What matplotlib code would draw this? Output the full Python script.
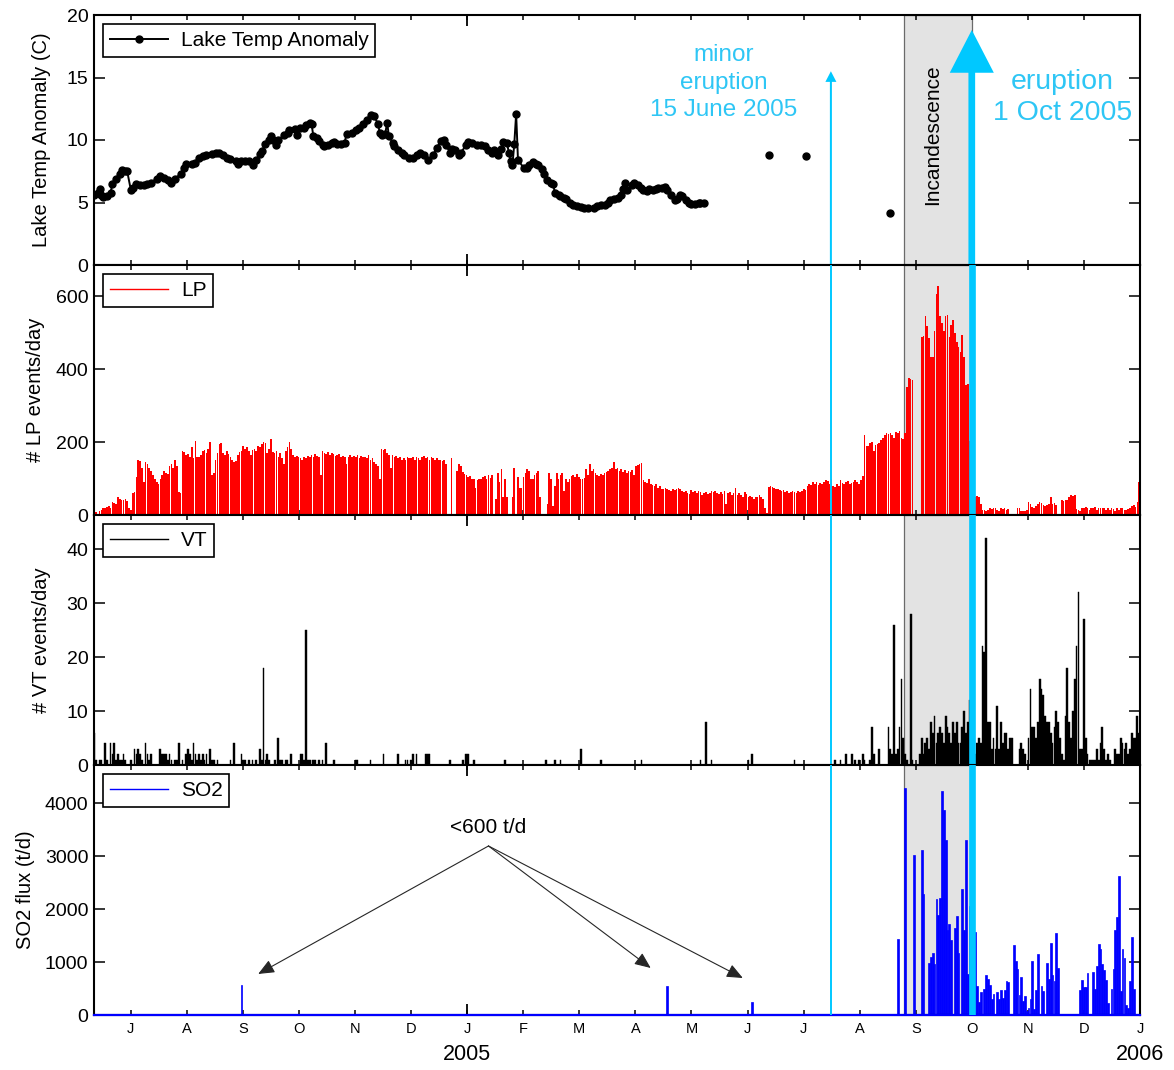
import numpy as np
import matplotlib
matplotlib.use('Agg')
import matplotlib.pyplot as plt
import matplotlib.transforms as mtransforms
from matplotlib.lines import Line2D
from matplotlib.patches import FancyArrow

plt.rcParams['font.family'] = ['Liberation Sans', 'DejaVu Sans']

# time axis is in decimal years, day index 0 = left edge of the plot
day0 = 2004.4454
t_end = 2006.0
minor_eruption = 2005.5406
eruption = 2005.75
incand_start = 2005.649

month_ticks = 2004.5 + np.arange(19) / 12.0
month_labels = ['J', 'A', 'S', 'O', 'N', 'D', 'J', 'F', 'M', 'A', 'M', 'J',
                'J', 'A', 'S', 'O', 'N', 'D', 'J']
year_ticks = [2005.0, 2006.0]

# lake temperature anomaly (day index, deg C)
temp_day = [0, 2, 3, 4, 5, 7, 9, 10, 12, 14, 15, 17, 18, 20, 21, 23, 25, 27, 29, 31,
            34, 36, 38, 40, 42, 44, 47, 49, 50, 53, 55, 57, 59, 61, 64, 66, 68, 70, 72, 74,
            77, 78, 80, 82, 84, 86, 88, 90, 91, 93, 95, 96, 97, 99, 100, 103, 105, 106, 109, 110,
            112, 114, 115, 117, 118, 119, 121, 122, 124, 125, 127, 129, 130, 132, 134, 136, 137, 140, 142, 144,
            146, 148, 150, 152, 154, 155, 156, 158, 159, 160, 162, 163, 165, 167, 168, 171, 173, 175, 177, 179,
            181, 184, 186, 188, 190, 191, 193, 194, 196, 198, 199, 202, 203, 205, 208, 210, 212, 214, 216, 217,
            219, 221, 222, 224, 225, 226, 227, 228, 229, 230, 233, 235, 236, 238, 240, 241, 243, 244, 246, 248,
            249, 250, 252, 253, 255, 256, 258, 260, 262, 264, 266, 268, 271, 273, 275, 277, 279, 280, 282, 284,
            286, 287, 288, 289, 292, 293, 295, 297, 298, 300, 301, 303, 305, 306, 308, 310, 311, 313, 315, 316,
            318, 319, 321, 323, 324, 326, 328, 329, 331]
temp_val = [5.6, 5.8, 6.1, 5.6, 5.45, 5.5, 5.8, 6.5, 6.9, 7.3, 7.6, 7.5, 7.5, 6.0, 6.2, 6.5, 6.4, 6.4, 6.5, 6.6,
            6.9, 7.1, 7.0, 6.8, 6.6, 6.9, 7.3, 7.8, 8.1, 8.1, 8.2, 8.6, 8.7, 8.8, 8.9, 9.0, 9.0, 8.8, 8.6, 8.5,
            8.3, 8.1, 8.3, 8.3, 8.3, 8.0, 8.4, 8.9, 9.1, 9.7, 10.0, 10.3, 10.0, 9.6, 10.0, 10.4, 10.6, 10.8, 10.9, 10.4,
            11.0, 11.0, 11.2, 11.4, 11.3, 10.3, 10.2, 9.9, 9.6, 9.5, 9.6, 9.8, 9.85, 9.7, 9.7, 9.8, 10.5, 10.6, 10.8, 11.0,
            11.3, 11.6, 12.0, 11.9, 11.3, 10.6, 10.4, 10.5, 11.4, 10.3, 9.8, 9.5, 9.2, 9.0, 8.8, 8.6, 8.6, 8.8, 9.0, 8.8,
            8.4, 8.8, 9.4, 9.9, 10.0, 9.6, 9.0, 9.3, 9.2, 8.8, 9.0, 9.6, 9.85, 9.8, 9.6, 9.6, 9.5, 9.2, 9.0, 9.2,
            8.8, 9.3, 9.85, 9.8, 9.0, 8.3, 8.0, 9.7, 12.1, 8.4, 7.8, 7.75, 8.0, 8.25, 8.1, 8.0, 7.7, 7.3, 6.8, 6.6,
            6.5, 5.8, 5.6, 5.5, 5.4, 5.3, 5.0, 4.8, 4.7, 4.65, 4.6, 4.55, 4.6, 4.7, 4.8, 4.8, 5.0, 5.2, 5.3, 5.4,
            5.6, 6.1, 6.6, 6.0, 6.4, 6.55, 6.4, 6.2, 6.0, 5.9, 6.1, 6.0, 6.1, 6.15, 6.2, 6.25, 6.0, 5.6, 5.2, 5.3,
            5.6, 5.5, 5.2, 5.0, 4.85, 4.9, 5.0, 5.0, 5.0]
temp_late_day = [366, 386, 432]
temp_late_val = [8.8, 8.7, 4.2]

# daily LP event counts, one value per day from day index 0
lp = [5, 8, 3, 10, 15, 18, 20, 22, 25, 20,
      35, 33, 30, 49, 45, 40, 42, 44, 38, 18, 14,
      60, 62, 103, 150, 147, 130, 90, 145, 140, 130,
      120, 110, 100, 90, 85, 100, 110, 120, 115, 112,
      135, 140, 130, 150, 135, 62, 60, 175, 172, 165,
      168, 160, 185, 155, 203, 160, 158, 165, 175, 178,
      170, 182, 200, 110, 115, 150, 170, 195, 198, 170,
      165, 175, 168, 160, 150, 145, 148, 165, 172, 175,
      190, 180, 185, 175, 165, 178, 182, 175, 190, 185,
      195, 200, 198, 170, 180, 208, 172, 170, 175, 160,
      170, 155, 140, 175, 185, 200, 180, 165, 160, 162,
      158, 155, 150, 160, 155, 162, 158, 165, 160, 168,
      162, 158, 110, 175, 170, 168, 172, 165, 170, 168,
      162, 165, 168, 160, 162, 158, 140, 160, 165, 158,
      162, 160, 165, 155, 162, 158, 160, 155, 165, 150,
      155, 145, 140, 135, 100, 180, 178, 182, 170, 165,
      130, 165, 160, 162, 155, 158, 150, 155, 152, 158,
      155, 155, 158, 152, 160, 155, 150, 158, 162, 155,
      160, 152, 158, 155, 150, 155, 152, 150, 148, 150,
      140, 0, 0, 155, 0, 0, 120, 140, 135, 118,
      112, 110, 105, 108, 100, 98, 75, 95, 100, 98,
      105, 108, 100, 110, 102, 110, 0, 45, 115, 90,
      125, 50, 100, 50, 0, 0, 50, 130, 0, 105,
      75, 75, 105, 115, 125, 120, 100, 100, 110, 115,
      120, 50, 0, 0, 0, 30, 115, 100, 25, 80,
      115, 100, 110, 115, 65, 100, 90, 100, 108, 110,
      105, 112, 105, 100, 98, 102, 125, 110, 140, 120,
      125, 115, 110, 108, 112, 110, 115, 118, 120, 125,
      130, 145, 125, 130, 120, 125, 118, 122, 115, 120,
      118, 122, 110, 135, 138, 140, 142, 95, 90, 88,
      100, 85, 82, 80, 85, 75, 80, 72, 70, 75,
      72, 68, 65, 70, 68, 72, 75, 70, 65, 62,
      65, 60, 58, 68, 62, 65, 60, 65, 62, 55,
      60, 62, 58, 60, 65, 62, 65, 60, 58, 62,
      58, 65, 30, 60, 62, 55, 60, 75, 55, 60,
      55, 50, 62, 58, 50, 52, 48, 45, 50, 48,
      55, 50, 45, 20, 5, 78, 80, 78, 75, 72,
      70, 68, 65, 68, 62, 65, 60, 62, 65, 62,
      60, 65, 62, 65, 70, 68, 80, 85, 82, 90,
      85, 90, 82, 88, 85, 90, 95, 92, 85, 100,
      80, 78, 85, 80, 95, 88, 85, 90, 92, 85,
      88, 90, 95, 90, 85, 95, 106, 218, 188, 190,
      197, 200, 174, 192, 195, 198, 205, 210, 220, 225,
      222, 226, 218, 210, 228, 226, 230, 210, 208, 225,
      350, 375, 372, 370, 0, 0, 0, 0, 489, 490,
      545, 517, 485, 433, 433, 503, 605, 628, 545, 526,
      503, 545, 549, 489, 521, 535, 498, 475, 461, 447,
      494, 433, 355, 359, 202, 81, 72, 50, 52, 48,
      30, 14, 15, 12, 15, 18, 16, 18, 20, 15,
      12, 18, 16, 18, 15, 17, 0, 0, 0, 0,
      20, 18, 12, 10, 12, 15, 35, 30, 22, 20,
      25, 30, 35, 32, 28, 25, 28, 30, 49, 30,
      32, 28, 0, 0, 40, 38, 40, 42, 50, 55,
      52, 54, 17, 15, 12, 18, 20, 22, 18, 15,
      20, 18, 22, 15, 18, 20, 18, 18, 15, 20,
      15, 18, 16, 12, 18, 15, 20, 18, 15, 14,
      16, 18, 25, 28, 22, 35, 90]

# daily VT event counts, one value per day from day index 0
vt = [6, 1, 0, 1, 1, 0, 4, 1, 0, 4, 2, 4, 1, 2, 1, 1, 2, 1, 0, 0,
      1, 0, 3, 2, 3, 2, 1, 0, 4, 2, 1, 2, 0, 0, 0, 0, 3, 2, 2, 2,
      1, 2, 1, 0, 1, 1, 4, 0, 1, 0, 2, 3, 2, 1, 4, 2, 1, 2, 1, 2,
      1, 2, 0, 3, 1, 1, 0, 1, 0, 0, 0, 0, 0, 0, 1, 0, 4, 0, 0, 0,
      2, 1, 1, 0, 1, 0, 1, 0, 1, 0, 3, 1, 18, 1, 2, 1, 0, 0, 1, 0,
      5, 1, 1, 0, 1, 1, 0, 2, 0, 0, 0, 0, 2, 2, 1, 25, 1, 1, 0, 1,
      1, 0, 1, 0, 1, 0, 4, 0, 0, 0, 1, 0, 0, 0, 0, 0, 0, 0, 0, 0,
      0, 0, 1, 1, 0, 0, 0, 0, 0, 0, 1, 0, 0, 0, 0, 0, 0, 2, 0, 0,
      0, 0, 0, 0, 0, 2, 0, 0, 0, 1, 1, 0, 1, 2, 0, 2, 0, 0, 0, 0,
      2, 2, 2, 0, 0, 0, 0, 0, 0, 0, 0, 0, 0, 1, 0, 0, 0, 0, 0, 0,
      1, 0, 2, 2, 0, 0, 1, 0, 0, 0, 0, 0, 0, 0, 0, 0, 0, 0, 0, 0,
      0, 0, 0, 1, 0, 0, 0, 0, 0, 0, 0, 0, 0, 0, 0, 0, 0, 0, 0, 0,
      0, 0, 0, 0, 0, 1, 0, 0, 0, 0, 1, 0, 0, 1, 0, 0, 0, 0, 0, 0,
      0, 0, 0, 0, 3, 0, 0, 0, 0, 0, 0, 0, 0, 0, 0, 1, 0, 0, 0, 0,
      0, 0, 0, 0, 0, 0, 0, 0, 0, 0, 0, 0, 0, 0, 0, 0, 0, 1, 0, 0,
      0, 0, 0, 0, 0, 0, 0, 0, 0, 0, 0, 0, 0, 0, 0, 0, 0, 0, 0, 0,
      0, 0, 0, 0, 0, 0, 0, 0, 0, 1, 0, 0, 8, 0, 0, 1, 0, 0, 0, 0,
      0, 0, 0, 0, 0, 0, 0, 0, 0, 0, 0, 0, 0, 0, 0, 1, 0, 2, 0, 0,
      0, 0, 0, 0, 0, 0, 0, 0, 0, 0, 0, 0, 0, 0, 0, 0, 0, 0, 0, 0,
      1, 0, 0, 0, 0, 0, 0, 0, 0, 0, 0, 0, 0, 0, 0, 0, 0, 0, 0, 0,
      0, 0, 1, 0, 0, 1, 0, 0, 2, 0,
      0, 2, 0, 1, 0, 1, 0, 2, 1, 0,
      0, 1, 7, 2, 0, 0, 3, 0, 0, 0,
      0, 7, 3, 2, 26, 2, 3, 7, 16, 5,
      2, 1, 0, 28, 1, 0, 0, 0, 2, 5,
      2, 4, 5, 3, 8, 6, 9, 4, 6, 7,
      6, 4, 9, 7, 6, 4, 8, 6, 8, 4,
      4, 7, 10, 6, 8, 12, 19, 12, 2, 4,
      5, 4, 22, 21, 42, 8, 8, 3, 5, 3,
      11, 3, 8, 4, 6, 6, 3, 5, 5, 0,
      0, 0, 3, 4, 3, 2, 0, 5, 14, 7,
      7, 5, 8, 16, 14, 13, 9, 8, 8, 6,
      4, 7, 10, 8, 5, 2, 1, 9, 18, 8,
      5, 10, 16, 22, 32, 3, 3, 27, 5, 2,
      1, 1, 1, 1, 3, 1, 4, 7, 3, 1,
      2, 1, 0, 0, 3, 2, 2, 5, 4, 3,
      4, 2, 3, 6, 5, 5, 9, 6]

# SO2 flux (t/d) on the days it was measured above zero
so2_day = [80, 311, 357, 436, 440, 445, 449, 450, 453, 454, 455, 456, 457, 458, 459, 460,
           461, 462, 463, 464, 465, 467, 468, 469, 471, 472, 473, 474, 475, 476, 477, 478,
           479, 480, 481, 483, 484, 485, 486, 487, 488, 490, 491, 492, 493, 494, 495, 496,
           499, 500, 501, 502, 503, 504, 505, 506, 507, 508, 509, 510, 511, 512, 514, 515,
           517, 518, 519, 520, 521, 522, 523, 535, 536, 537, 538, 539, 542, 543, 544, 545,
           546, 547, 548, 549, 550, 552, 553, 554, 555, 556, 557, 558, 559, 560, 561, 562,
           563, 564]
so2_flux = [566, 540, 250, 1430, 4280, 3020, 3120, 2290, 990, 1100, 1170, 960, 2180, 1880, 2200, 4220,
            3870, 3300, 1610, 1720, 1420, 1650, 1860, 1170, 2380, 1600, 3300, 770, 2050, 1410, 1610, 1570,
            545, 250, 440, 500, 750, 670, 560, 300, 400, 430, 310, 470, 330, 470, 650, 620,
            1320, 1020, 860, 380, 710, 260, 360, 80, 140, 310, 1020, 110, 480, 1160, 545, 460,
            980, 670, 1350, 750, 650, 1540, 880, 480, 660, 520, 530, 800, 815, 500, 920, 1340,
            1240, 960, 850, 660, 220, 500, 860, 1600, 1850, 2620, 460, 1240, 1070, 190, 140, 650,
            1470, 500]

assert len(temp_day) == len(temp_val)
assert len(so2_day) == len(so2_flux)

ndays = len(lp)
t_daily = day0 + np.arange(ndays) / 365.0
t_vt = day0 + np.arange(len(vt)) / 365.0
so2_daily = np.zeros(ndays)
so2_daily[np.array(so2_day)] = so2_flux

cyan = '#00c8ff'
cyan_txt = '#2ec6f5'

fig = plt.figure(figsize=(11.74, 10.70), dpi=100)
axs = fig.subplots(4, 1, sharex=True)
fig.subplots_adjust(left=94 / 1174, right=1140 / 1174, top=1 - 15 / 1070,
                    bottom=1 - 1015 / 1070, hspace=0)
ax1, ax2, ax3, ax4 = axs

for ax in axs:
    ax.axvspan(incand_start, eruption, facecolor='#e3e3e3', edgecolor='#6a6a6a',
               lw=0.9, zorder=0)

# lake temperature
h_temp, = ax1.plot(day0 + np.array(temp_day) / 365.0, temp_val, '-o', color='k',
                   ms=5, lw=1.4, zorder=3)
ax1.plot(day0 + np.array(temp_late_day) / 365.0, temp_late_val, 'o', color='k',
         ms=5, zorder=3)
ax1.set_ylim(0, 20)
ax1.set_yticks([0, 5, 10, 15, 20])
ax1.set_ylabel('Lake Temp Anomaly (C)', fontsize=14.5)

# LP
ax2.bar(t_daily, lp, width=0.9 / 365, color='#ff0000', linewidth=0, zorder=2)
ax2.set_ylim(0, 685)
ax2.set_yticks([0, 200, 400, 600])
ax2.set_ylabel('# LP events/day', fontsize=14.5)

# VT
ax3.bar(t_vt, vt, width=0.95 / 365, color='k', edgecolor='k', linewidth=0.3, zorder=2)
ax3.set_ylim(0, 46.3)
ax3.set_yticks([0, 10, 20, 30, 40])
ax3.set_ylabel('# VT events/day', fontsize=14.5)

# SO2
ax4.bar(t_daily, so2_daily, width=0.95 / 365, color='#0000ff', edgecolor='#0000ff',
        linewidth=0.5, zorder=2)
ax4.axhline(0, color='#0000ff', lw=1.6, zorder=4, clip_on=False)
ax4.set_ylim(0, 4717)
ax4.set_yticks([0, 1000, 2000, 3000, 4000])
ax4.set_ylabel('SO2 flux (t/d)', fontsize=14.5)

ax1.yaxis.set_label_coords(-0.041, 0.5)
ax2.yaxis.set_label_coords(-0.047, 0.5)
ax3.yaxis.set_label_coords(-0.041, 0.5)
ax4.yaxis.set_label_coords(-0.056, 0.5)

# eruption markers
for ax in (ax2, ax3, ax4):
    ax.axvline(eruption, color=cyan, lw=4.8, zorder=5)
    ax.axvline(minor_eruption, color=cyan, lw=1.4, zorder=5)
ax1.add_patch(FancyArrow(eruption, 0, 0, 18.8, width=6.7 / 672, head_width=44 / 672,
                         head_length=3.42, length_includes_head=True,
                         color=cyan, lw=0, zorder=5))
ax1.add_patch(FancyArrow(minor_eruption, 0, 0, 15.5, width=2.0 / 672, head_width=11 / 672,
                         head_length=0.85, length_includes_head=True,
                         color=cyan, lw=0, zorder=5))

ax1.text(2005.3814, 14.6, 'minor\neruption\n15 June 2005', color=cyan_txt, fontsize=17.5,
         ha='center', va='center', linespacing=1.35)
ax1.text(2005.8844, 13.4, 'eruption\n1 Oct 2005', color=cyan_txt, fontsize=20.5,
         ha='center', va='center', linespacing=1.25)
ax1.text(2005.6924, 10.4, 'Incandescence', rotation=90, fontsize=15,
         ha='center', va='center')

# "<600 t/d" pointers
src = (2005.0317, 3189)
for tgt in [(2004.6894, 774), (2005.2728, 887), (2005.4097, 698)]:
    ax4.annotate('', xy=tgt, xytext=src,
                 arrowprops=dict(arrowstyle='-|>,head_length=0.7,head_width=0.3',
                                 color='#262626', lw=0.8, shrinkA=0, shrinkB=0,
                                 mutation_scale=14))
ax4.text(2005.0317, 3547, '<600 t/d', fontsize=15, ha='center', va='center')

# legends
leg_kw = dict(loc='upper left', fontsize=15, fancybox=False, edgecolor='k',
              framealpha=1, borderaxespad=0.45, handlelength=2.8,
              handletextpad=0.6, borderpad=0.32)
legs = [ax1.legend([h_temp], ['Lake Temp Anomaly'], **leg_kw),
        ax2.legend([Line2D([], [], color='#ff0000', lw=1)], ['LP'], **leg_kw),
        ax3.legend([Line2D([], [], color='k', lw=1)], ['VT'], **leg_kw),
        ax4.legend([Line2D([], [], color='#0000ff', lw=1)], ['SO2'], **leg_kw)]
for leg in legs:
    leg.get_frame().set_linewidth(1.2)
    leg.set_zorder(6)

# axes styling
for ax in axs:
    ax.set_xlim(day0, t_end)
    for s in ax.spines.values():
        s.set_linewidth(1.5)
    ax.set_xticks(month_ticks)
    ax.set_xticks(year_ticks, minor=True)
    ax.xaxis.remove_overlapping_locs = False
    ax.tick_params(axis='x', which='major', direction='in', top=True, bottom=True,
                   length=3.8, width=1.1, labelsize=10.5, pad=5)
    ax.tick_params(axis='x', which='minor', direction='in', top=True, bottom=True,
                   length=8, width=1.3)
    ax.tick_params(axis='y', direction='in', left=True, right=True,
                   length=8, width=1.1, labelsize=14, pad=4)
    ax.set_facecolor('white')

ax4.set_xticklabels(month_labels)
for ax in (ax1, ax2, ax3):
    ax.tick_params(axis='x', labelbottom=False)

blend = mtransforms.blended_transform_factory(ax4.transData, ax4.transAxes)
ax4.text(2005.0, -0.16, '2005', transform=blend, ha='center', va='center', fontsize=15.5)
ax4.text(2006.0, -0.16, '2006', transform=blend, ha='center', va='center', fontsize=15.5)

fig.savefig('out.png', dpi=100, facecolor='white')
